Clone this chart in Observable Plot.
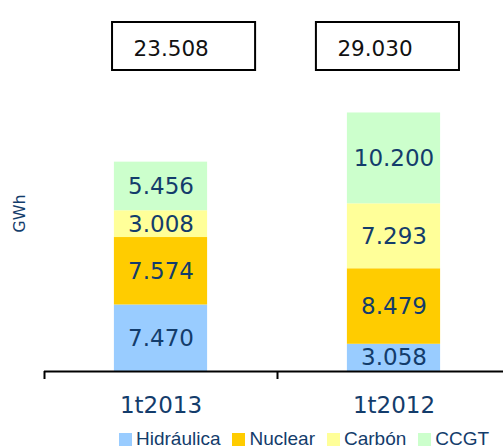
<!DOCTYPE html>
<html><head><meta charset="utf-8">
<script src="https://cdn.jsdelivr.net/npm/d3@7"></script>
<script src="https://cdn.jsdelivr.net/npm/@observablehq/plot@0.6"></script>
<style>
html,body{margin:0;padding:0;background:#fff;}
.lg-swatch{margin-right:12px !important;}
.lg-swatch > svg{margin-right:4px !important;}
</style></head><body><div id="chart"></div>
<script>
const categories = ["1t2013", "1t2012"];
const series = ["Hidráulica", "Nuclear", "Carbón", "CCGT"];
const hidraulica = [7470, 3058];
const nuclear = [7574, 8479];
const carbon = [3008, 7293];
const ccgt = [5456, 10200];
const colors = ["#99CCFF", "#FFCC00", "#FFFF99", "#CCFFCC"];

const seriesValues = [hidraulica, nuclear, carbon, ccgt];
const rows = [];
categories.forEach((c, i) => series.forEach((s, j) => rows.push({category: c, i, series: s, value: seriesValues[j][i]})));
const totals = categories.map((c, i) => ({category: c, i, total: d3.sum(seriesValues, v => v[i])}));

const es = d3.formatLocale({decimal: ",", thousands: ".", grouping: [3], currency: ["", " €"]});
const fmt = es.format(",d");

const ink = "#133C6B";
const font = "DejaVu Sans, Verdana, sans-serif";
const boxX1 = d => d.i + (d.i === 0 ? -0.208 : -0.333);
const boxX2 = d => d.i + (d.i === 0 ? 0.406 : 0.281);

const chart = Plot.plot({
  width: 503, height: 430,
  marginLeft: 44, marginRight: 0, marginTop: 0, marginBottom: 59,
  x: {domain: [-0.5, categories.length - 0.5], range: [44, 510], axis: null},
  y: {domain: [0, 41660], axis: null},
  color: {domain: series, range: colors},
  style: {background: "white"},
  marks: [
    Plot.rectY(rows, {x1: d => d.i - 0.2, x2: d => d.i + 0.2, y: "value", fill: "series"}),
    Plot.text(rows, Plot.stackY({x: "i", y: "value", text: d => fmt(d.value), fill: ink, fontSize: 23, fontFamily: font})),
    Plot.ruleY([0], {stroke: "#000", strokeWidth: 2}),
    Plot.ruleX(categories.map((c, i) => i - 0.5), {y1: 0, y2: 0, insetBottom: -8, stroke: "#000", strokeWidth: 2}),
    Plot.text(categories, {x: (d, i) => i, y: 0, text: d => d, dy: 41.5, lineAnchor: "bottom", fill: ink, fontSize: 23, fontFamily: font}),
    Plot.rect(totals, {x1: boxX1, x2: boxX2, insetTop: 22, insetBottom: 301, fill: "white", stroke: "#000", strokeWidth: 2}),
    Plot.text(totals, {x: boxX1, text: d => fmt(d.total), frameAnchor: "top", dy: 55, dx: 21, textAnchor: "start", lineAnchor: "bottom", fill: "#111", fontSize: 21.5, fontFamily: font}),
    Plot.text(["GWh"], {text: d => d, frameAnchor: "left", textAnchor: "middle", lineAnchor: "middle", rotate: -90, dx: -25, dy: 27.5, fill: ink, fontSize: 16, fontFamily: font})
  ]
});

const legend = Plot.legend({
  color: {domain: series, range: colors},
  legend: "swatches",
  swatchSize: 13,
  className: "lg",
  style: {marginLeft: "119px", fontFamily: "Liberation Sans, Arial, sans-serif", fontSize: "19px", lineHeight: "18px", color: ink, minHeight: "18px", height: "18px", marginBottom: "0", flexWrap: "nowrap"}
});

const root = document.getElementById("chart");
root.appendChild(chart);
root.appendChild(legend);
</script></body></html>
